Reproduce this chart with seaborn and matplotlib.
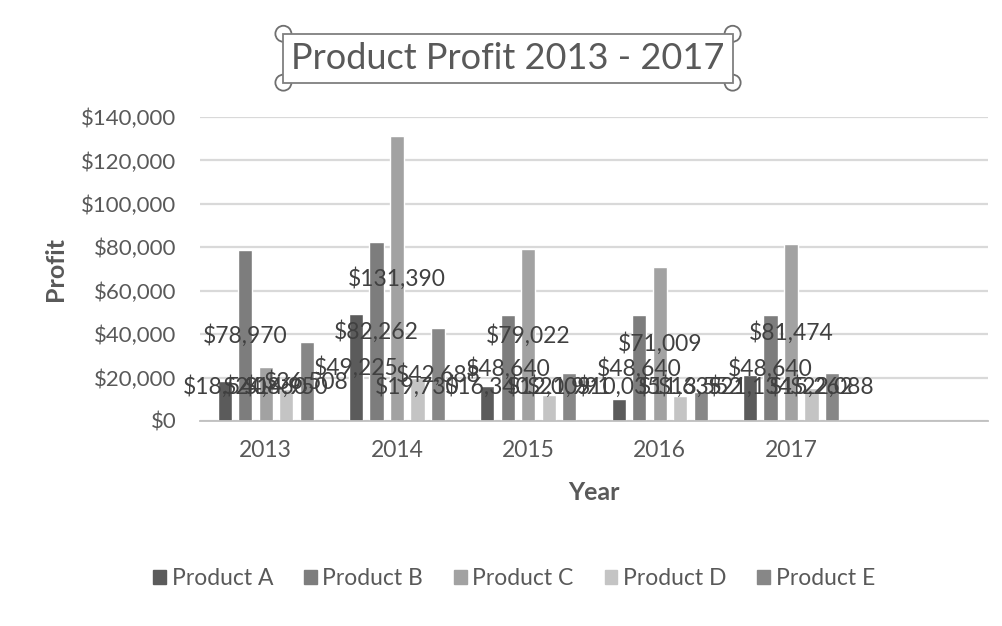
import numpy as np
import pandas as pd
import matplotlib.pyplot as plt
import matplotlib.patches as mpatches
import matplotlib.transforms as mtransforms
import seaborn as sns

# Datos
years = ["2013", "2014", "2015", "2016", "2017"]
products = ["Product A", "Product B", "Product C", "Product D", "Product E"]
product_a = [18540, 49225, 16340, 10035, 21134]
product_b = [78970, 82262, 48640, 48640, 48640]
product_c = [24860, 131390, 79022, 71009, 81474]
product_d = [14950, 19730, 12009, 11635, 15262]
product_e = [36508, 42688, 21991, 13552, 22088]
y_ticks = [0, 20000, 40000, 60000, 80000, 100000, 120000, 140000]

colors = ["#5b5b5b", "#7d7d7d", "#a2a2a2", "#c4c4c4", "#878787"]
text_color = "#595959"

rows = []
for name, vals in zip(products, [product_a, product_b, product_c, product_d, product_e]):
    for y, v in zip(years, vals):
        rows.append({"Year": y, "Product": name, "Profit": v})
df = pd.DataFrame(rows)

sns.set_style("white")
plt.rcParams["font.family"] = ["Lato", "DejaVu Sans"]

fig = plt.figure(figsize=(10.02, 6.26), dpi=100)
ax = fig.add_axes([0.1996, 0.3275, 0.7864, 0.4855])

# hueco vacio al final, como en el original
order = years + [" "]
sns.barplot(data=df, x="Year", y="Profit", hue="Product", order=order,
            hue_order=products, palette=colors, width=0.78, gap=0.31,
            saturation=1, legend=False, ax=ax)

ax.set_xlim(-0.5, len(order) - 0.5)
ax.set_ylim(0, 140000)
ax.set_yticks(y_ticks)
ax.set_yticklabels([f"${t:,.0f}" for t in y_ticks])
ax.yaxis.grid(True, color="#d9d9d9", linewidth=1.6)
ax.set_axisbelow(True)

for s in ["top", "right", "left"]:
    ax.spines[s].set_visible(False)
ax.spines["bottom"].set_color("#bfbfbf")
ax.spines["bottom"].set_linewidth(1.3)

ax.set_xticks(range(len(order)))
ax.set_xticklabels(order)
ax.set_xticks(np.arange(-0.5, len(order)), minor=True)
ax.tick_params(axis="x", which="major", length=0, pad=14, labelsize=16.5, labelcolor=text_color)
ax.tick_params(axis="x", which="minor", length=7, color="#bfbfbf", width=1.3)
ax.tick_params(axis="y", length=0, pad=17, labelsize=16, labelcolor=text_color)

ax.set_xlabel("Year", fontsize=18, fontweight="bold", color=text_color, labelpad=14)
ax.set_ylabel("Profit", fontsize=18, fontweight="bold", color=text_color, labelpad=10)

# etiquetas de datos (centradas, con un minimo para las barras bajas)
for cont in ax.containers:
    for bar in cont:
        h = bar.get_height()
        if np.isnan(h) or h == 0:
            continue
        ax.text(bar.get_x() + bar.get_width() / 2, max(h / 2, 16000), f"${h:,.0f}",
                ha="center", va="center", fontsize=16.5, color="#404040")

handles = [mpatches.Patch(color=c, label=p) for c, p in zip(colors, products)]
fig.legend(handles=handles, loc="center", bbox_to_anchor=(0.513, 0.076), ncol=5,
           frameon=False, fontsize=16.5, handlelength=0.55, handleheight=0.55,
           handletextpad=0.25, columnspacing=1.35, labelcolor=text_color)

title = fig.text(0.507, 0.907, "Product Profit 2013 - 2017", ha="center", va="center",
                 fontsize=26, color=text_color,
                 bbox=dict(boxstyle="square,pad=0.22", fc="white", ec="#7f7f7f", lw=1.3))

# asas de seleccion en las esquinas del titulo
fig.canvas.draw()
bb = title.get_bbox_patch().get_window_extent()
for cx, cy in [(bb.x0, bb.y0), (bb.x0, bb.y1), (bb.x1, bb.y0), (bb.x1, bb.y1)]:
    circ = mpatches.Circle((cx, cy), 8, fc="white", ec="#6f6f6f", lw=1.3,
                           transform=mtransforms.IdentityTransform())
    fig.add_artist(circ)

fig.savefig("out.png", dpi=100)
